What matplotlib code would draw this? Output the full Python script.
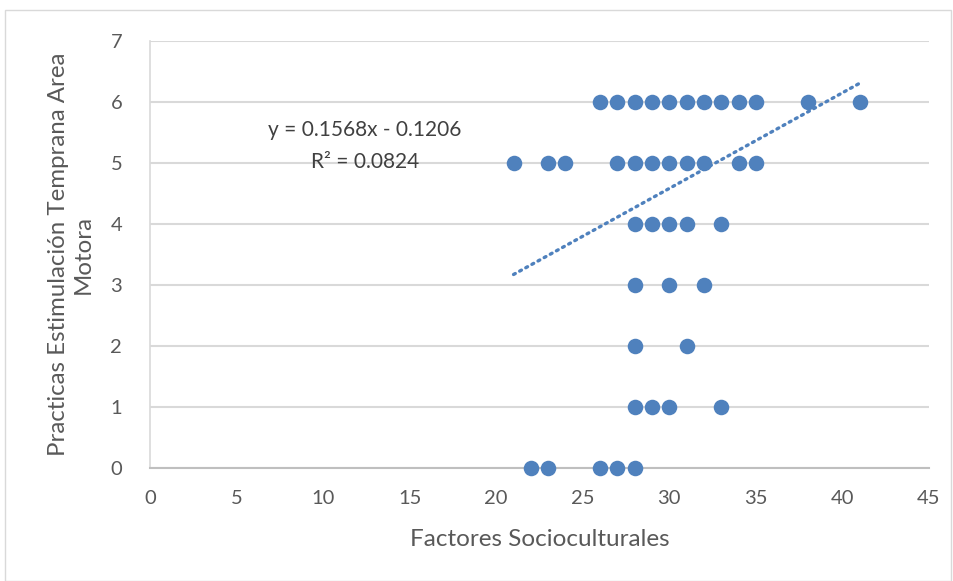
import matplotlib
matplotlib.use("Agg")
import matplotlib.pyplot as plt
import numpy as np
from matplotlib.patches import Rectangle

# Data
x6 = [26, 27, 28, 29, 30, 31, 32, 33, 34, 35, 38, 41]
x5 = [21, 23, 24, 27, 28, 29, 30, 31, 32, 34, 35]
x4 = [28, 29, 30, 31, 33]
x3 = [28, 30, 32]
x2 = [28, 31]
x1 = [28, 29, 30, 33]
x0 = [22, 23, 26, 27, 28]
groups = {6: x6, 5: x5, 4: x4, 3: x3, 2: x2, 1: x1, 0: x0}

slope = 0.1568
intercept = -0.1206
r2 = 0.0824

xs = []
ys = []
for yv, xl in groups.items():
    xs += xl
    ys += [yv] * len(xl)
xs = np.array(xs)
ys = np.array(ys)

plt.rcParams['font.family'] = ['Lato', 'DejaVu Sans']

fig = plt.figure(figsize=(9.54, 5.81), dpi=100)
ax = fig.add_axes([150/954, 1 - 468/581, (929-150)/954, (468-41)/581])

# figure border
fig.patches.append(Rectangle((5/954, 0), 946/954, 1 - 10/581, transform=fig.transFigure,
                             fill=False, edgecolor='#d9d9d9', linewidth=1.0))

ax.set_xlim(0, 45)
ax.set_ylim(0, 7)
ax.set_xticks(np.arange(0, 46, 5))
ax.set_yticks(np.arange(0, 8, 1))
ax.yaxis.grid(True, color='#d9d9d9', linewidth=1.5)
ax.set_axisbelow(True)
for s in ['top', 'right']:
    ax.spines[s].set_visible(False)
ax.spines['left'].set_color('#d9d9d9')
ax.spines['left'].set_linewidth(1.2)
ax.spines['bottom'].set_color('#bfbfbf')
ax.spines['bottom'].set_linewidth(1.5)
ax.tick_params(length=0, labelsize=14.5, colors='#595959')
ax.tick_params(axis='x', pad=16)
ax.tick_params(axis='y', pad=20)

ax.scatter(xs, ys, s=125, color='#4f81bd', zorder=3, linewidths=0, clip_on=False)

tx = np.array([xs.min(), xs.max()])
ax.plot(tx, slope * tx + intercept, color='#4f81bd', linewidth=2.4,
        linestyle=(0, (0.6, 1.5)), dash_capstyle='round', zorder=4)

ax.text(12.4, 5.54, f"y = {slope:.4f}x - {abs(intercept):.4f}", ha='center', va='center',
        fontsize=15, color='#404040')
ax.text(12.4, 5.02, f"R² = {r2:.4f}", ha='center', va='center',
        fontsize=15, color='#404040')

ax.set_xlabel("Factores Socioculturales", fontsize=17.5, color='#595959', labelpad=16)
ax.set_ylabel("Practicas Estimulación Temprana Area\nMotora", fontsize=17.3, color='#595959',
              labelpad=12, linespacing=1.2)

fig.savefig("out.png", dpi=100)
